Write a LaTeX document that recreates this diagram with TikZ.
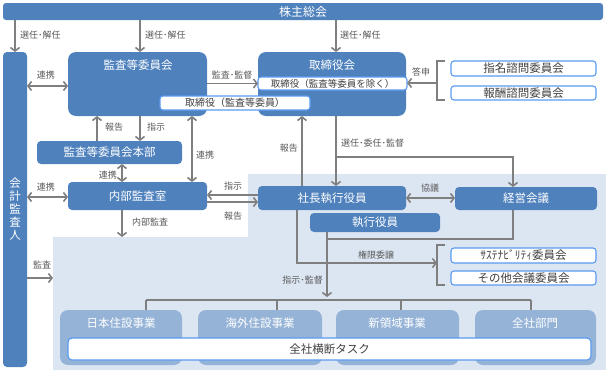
\documentclass[tikz,border=0pt]{standalone}
\usepackage{fontspec}
\setmainfont{Noto Sans CJK JP}
\usetikzlibrary{arrows.meta,calc}
\definecolor{dblue}{HTML}{4F81BD}
\definecolor{lblue}{HTML}{95B3D7}
\definecolor{bgblue}{HTML}{DCE6F2}
\definecolor{wborder}{HTML}{5A9AF0}
\definecolor{agray}{HTML}{7F7F7F}
\definecolor{lgray}{HTML}{595959}
\definecolor{tgray}{HTML}{404040}
\newcommand\mkbox[7]{\node[#2, minimum width={(#5-#3)*1pt}, minimum height={(#6-#4)*1pt}] (#1) at ({(#3+#5)/2},{(#4+#6)/2}) {#7};}
\begin{document}
\begin{tikzpicture}[x=1pt,y=-1pt,
  base/.style={rectangle, inner sep=0pt, outer sep=0pt},
  darkbox/.style={base, fill=dblue, text=white, rounded corners=4pt, font=\fontsize{11.5}{13}\selectfont},
  bigbox/.style={base, fill=dblue, rounded corners=8pt},
  unitbox/.style={base, fill=lblue, rounded corners=8pt},
  whitebox/.style={base, fill=white, draw=wborder, line width=1.1pt, rounded corners=3pt, text=tgray, font=\fontsize{11.5}{13}\selectfont},
  ttl/.style={inner sep=0pt, text=white, font=\fontsize{11.5}{13}\selectfont},
  lab/.style={inner sep=0pt, text=lgray, font=\fontsize{9}{10}\selectfont},
  ln/.style={draw=agray, line width=1.6pt},
  arr/.style={ln, -{Straight Barb[length=3.5pt,width=9pt,line width=1.6pt]}},
  darr/.style={ln, {Straight Barb[length=3.5pt,width=9pt,line width=1.6pt]}-{Straight Barb[length=3.5pt,width=9pt,line width=1.6pt]}}
]
\useasboundingbox (0,0) rectangle (606,370);
% background region
\fill[bgblue] (53,237) -- (248,237) -- (248,174) -- (606,174) -- (606,370) -- (53,370) -- cycle;

% boxes
\mkbox{kabu}{darkbox,rounded corners=3pt,font=\fontsize{12}{14}\selectfont}{3}{3}{603}{20}{株主総会}
\mkbox{kaikei}{darkbox,rounded corners=4pt}{3}{52}{27}{367}{}
\node[ttl, align=center, font=\fontsize{11.5}{13}\selectfont] (kaikeit) at (15,209) {会\\計\\監\\査\\人};
\mkbox{kansa}{bigbox}{68}{52}{207}{116}{}
\node[ttl] (kansat) at (138,65) {監査等委員会};
\mkbox{tori}{bigbox}{258}{52}{406}{116}{}
\node[ttl] (torit) at (332,65) {取締役会};
\mkbox{toriW}{whitebox,font=\fontsize{9.5}{11}\selectfont}{258}{77}{407}{90}{取締役（監査等委員を除く）}
\mkbox{kansaW}{whitebox,font=\fontsize{10}{12}\selectfont}{160}{96}{310}{110}{取締役（監査等委員）}
\mkbox{honbu}{darkbox}{37}{141}{182}{164}{監査等委員会本部}
\mkbox{naibu}{darkbox}{68}{182}{207}{210}{内部監査室}
\mkbox{shacho}{darkbox}{258}{186}{406}{210}{社長執行役員}
\mkbox{shikko}{darkbox}{310}{213}{440}{232}{執行役員}
\mkbox{keiei}{darkbox}{455}{187}{597}{210}{経営会議}
\mkbox{shimei}{whitebox}{451}{61}{596}{76}{指名諮問委員会}
\mkbox{hoshu}{whitebox}{451}{86}{596}{100}{報酬諮問委員会}
\mkbox{sustain}{whitebox}{451}{248}{596}{263}{ｻｽﾃﾅﾋﾞﾘﾃｨ委員会}
\mkbox{sonota}{whitebox}{451}{271}{596}{285}{その他会議委員会}
\mkbox{nihon}{unitbox}{60}{310}{182}{365}{}
\mkbox{kaigai}{unitbox}{198}{310}{322}{365}{}
\mkbox{shin}{unitbox}{336}{310}{459}{365}{}
\mkbox{zensha}{unitbox}{475}{310}{596}{365}{}
\node[ttl] (nihont) at (121,323) {日本住設事業};
\node[ttl] (kaigait) at (260,323) {海外住設事業};
\node[ttl] (shint) at (397,323) {新領域事業};
\node[ttl] (zenshat) at (535,323) {全社部門};
\mkbox{task}{whitebox,line width=1.2pt,rounded corners=4pt}{68}{338}{591}{360}{全社横断タスク}

% coordinates
\coordinate (c15) at (15,0);
\coordinate (c140) at (140,0);
\coordinate (c336) at (336,0);
\coordinate (c97) at (97,0);
\coordinate (c192) at (192,0);
\coordinate (c122) at (122,0);
\coordinate (c302) at (302,0);
\coordinate (naibuEnd) at (122,237);
\coordinate (kansaEnd) at (53,278);
\coordinate (y86) at (0,86);
\coordinate (y197) at (0,197);
\coordinate (br1) at (437,83);
\coordinate (br2) at (437,263);
\coordinate (b513) at (513,157);
\coordinate (c297) at (297,263);
\coordinate (c327) at (327,297);
\coordinate (j) at (327,239);
\coordinate (d1) at (146,300);
\coordinate (d2) at (277,300);
\coordinate (d3) at (401,300);
\coordinate (d4) at (531,300);

% brackets
\draw[ln] (445,61) -- (437,61) -- (437,100) -- (445,100);
\draw[ln] (445,245) -- (437,245) -- (437,285) -- (445,285);

% connectors
\draw[arr] (kabu.south -| c15) -- (kaikei.north -| c15);
\draw[arr] (kabu.south -| c140) -- (kansa.north -| c140);
\draw[arr] (kabu.south -| c336) -- (tori.north -| c336);
\draw[darr] (kaikei.east |- y86) -- (kansa.west |- y86);
\draw[arr] (kansa.east |- toriW.west) -- (toriW.west);
\draw[arr] (br1) -- (br1 -| toriW.east);
\draw[arr] (honbu.north -| c97) -- (kansa.south -| c97);
\draw[arr] (kansa.south -| c140) -- (honbu.north -| c140);
\draw[darr] (kansa.south -| c192) -- (naibu.north -| c192);
\draw[darr] (honbu.south -| c122) -- (naibu.north -| c122);
\draw[darr] (kaikei.east |- y197) -- (naibu.west |- y197);
\draw[arr] (naibu.south -| c122) -- (naibuEnd);
\draw[arr] (kaikei.east |- kansaEnd) -- (kansaEnd);
\draw[arr] ([yshift=3pt]shacho.west) -- ([yshift=3pt]shacho.west -| naibu.east);
\draw[arr] ([yshift=-4pt]shacho.west -| naibu.east) -- ([yshift=-4pt]shacho.west);
\draw[arr] (shacho.north -| c302) -- (tori.south -| c302);
\draw[arr] (tori.south -| c336) -- (shacho.north -| c336);
\draw[arr] (c336 |- b513) -- (b513) -- (keiei.north -| b513);
\draw[darr] (shacho.east) -- (shacho.east -| keiei.west);
\draw[arr] (shacho.south -| c297) -- (c297) -- (br2);
\draw[ln] (keiei.south -| b513) -- (b513 |- j) -- (j);
\draw[arr] (shikko.south -| c327) -- (c327);
\draw[ln] (d1) -- (d4);
\draw[ln] (d1) -- (nihon.north -| d1);
\draw[ln] (d2) -- (kaigai.north -| d2);
\draw[ln] (d3) -- (shin.north -| d3);
\draw[ln] (d4) -- (zensha.north -| d4);

% labels
\node[lab, anchor=west] (l1) at (20,35) {選任･解任};
\node[lab, anchor=west] (l2) at (145,35) {選任･解任};
\node[lab, anchor=west] (l3) at (340,35) {選任･解任};
\node[lab] (l4) at (46,75) {連携};
\node[lab] (l5) at (232,75) {監査･監督};
\node[lab] (l6) at (421,72) {答申};
\node[lab, anchor=west] (l7) at (105,127) {報告};
\node[lab, anchor=west] (l8) at (147,127) {指示};
\node[lab, anchor=west] (l9) at (196,155) {連携};
\node[lab, anchor=east] (l10) at (117,175) {連携};
\node[lab] (l11) at (46,187) {連携};
\node[lab, anchor=west] (l12) at (132,222) {内部監査};
\node[lab] (l13) at (42,265) {監査};
\node[lab] (l14) at (233,186) {指示};
\node[lab] (l15) at (233,216) {報告};
\node[lab, anchor=east] (l16) at (298,148) {報告};
\node[lab, anchor=west] (l17) at (341,143) {選任･委任･監督};
\node[lab] (l18) at (430,188) {協議};
\node[lab] (l19) at (376,255) {権限委譲};
\node[lab, anchor=east] (l20) at (323,280) {指示･監督};
\end{tikzpicture}
\end{document}
